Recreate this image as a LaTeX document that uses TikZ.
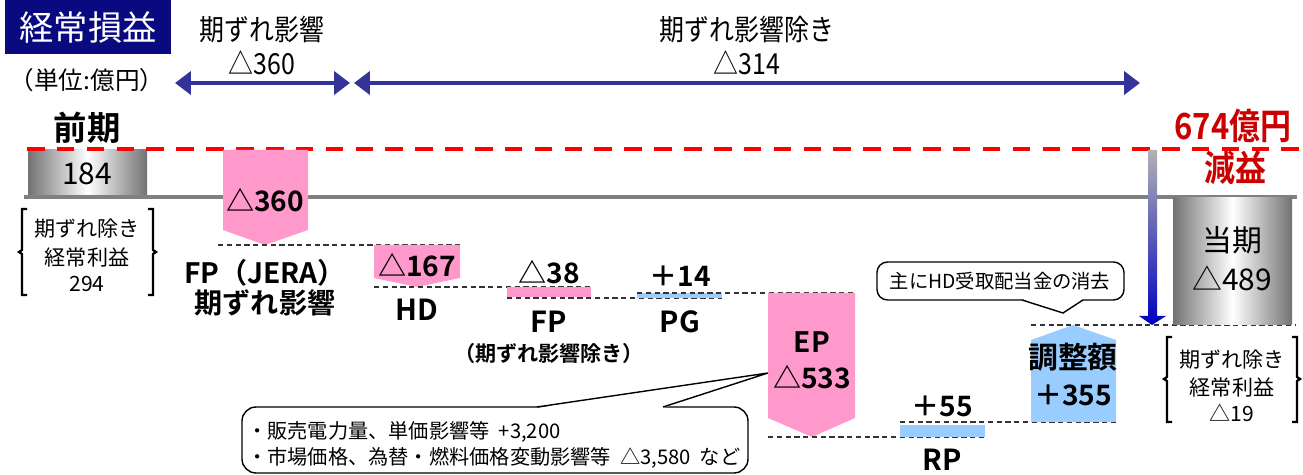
\documentclass[tikz,border=0pt]{standalone}
\usepackage{fontspec}
\setmainfont{Noto Sans CJK JP}[BoldFont={Noto Sans CJK JP Bold}]
\newfontfamily\narrowfont{Noto Sans CJK JP}[BoldFont={Noto Sans CJK JP Bold},FakeStretch=0.86]
\usetikzlibrary{arrows.meta, positioning, calc}
\definecolor{titlenavy}{HTML}{0A0A80}
\definecolor{arrownavy}{HTML}{333399}
\definecolor{barpink}{HTML}{FF99CC}
\definecolor{barblue}{HTML}{99CCFF}
\definecolor{lossred}{HTML}{CC0000}

\begin{document}
\begin{tikzpicture}[x=0.02cm, y=-0.02cm,
  lbl/.style={inner sep=0pt, font=\fontsize{16.5}{18}\selectfont\bfseries},
  big/.style={inner sep=0pt, font=\fontsize{16}{18}\selectfont\bfseries},
  topnote/.style={inner sep=0pt, font=\fontsize{16.5}{18}\selectfont\narrowfont},
  small/.style={inner sep=0pt, font=\fontsize{11.5}{13}\selectfont},
  stepline/.style={densely dashed, line width=0.7pt, black!80},
  span/.style={arrownavy, line width=2.4pt, {Triangle[length=9pt,width=13pt]}-{Triangle[length=9pt,width=13pt]}},
  bracketline/.style={line width=1.3pt}]
\useasboundingbox (0,0) rectangle (1303,475);

% Title and unit
\fill[titlenavy] (5,0) rectangle (171,54);
\node[inner sep=0pt, white, font=\fontsize{19.5}{21}\selectfont] (title) at (88,27) {経常損益};
\node[inner sep=0pt, font=\fontsize{14}{16}\selectfont] (unit) at (87,80) {（単位:億円）};

% Spans at the top
\coordinate (s1a) at (175,83); \coordinate (s1b) at (350,83);
\coordinate (s2a) at (354,83); \coordinate (s2b) at (1140,83);
\draw[span] (s1a) -- (s1b);
\draw[span] (s2a) -- (s2b);
\node[topnote] (lagname) at (262,30) {期ずれ影響};
\node[topnote] (lagval) at (262,63) {△360};
\node[topnote] (restname) at (747,30) {期ずれ影響除き};
\node[topnote] (restval) at (747,63) {△314};

% Previous year
\node[inner sep=0pt, font=\fontsize{19}{21}\selectfont\bfseries] (prevname) at (87,128) {前期};
\draw[left color=black!55, right color=black!55, middle color=white, draw=none]
  (28,150) rectangle (147,197);
\node[inner sep=0pt, font=\fontsize{17}{19}\selectfont] (prevval) at (87,174) {184};

% Lines across
\draw[black!50, line width=1.8pt] (24,197) -- (1297,197);
\draw[red, line width=2.4pt, dash pattern=on 10pt off 7pt] (27,149) -- (1303,149);

% Left bracket
\draw[bracketline] (27,209) -- (22,209) -- (22,250) -- (19,252) -- (22,254) -- (22,295) -- (27,295);
\draw[bracketline] (148,209) -- (153,209) -- (153,250) -- (156,252) -- (153,254) -- (153,295) -- (148,295);
\node[small, font=\fontsize{12}{14}\selectfont] (prevex1) at (87,229) {期ずれ除き};
\node[small, font=\fontsize{12}{14}\selectfont] (prevex2) at (87,257) {経常利益};
\node[small, font=\fontsize{12}{14}\selectfont] (prevex3) at (87,284) {294};

% FP (JERA) lag
\fill[barpink] (223,150) -- (308,150) -- (308,230) -- (265,245) -- (223,230) -- cycle;
\node[big] (jeraval) at (265,200) {△360};
\coordinate (jerab) at (218,245); \coordinate (hdt) at (460,245);
\draw[stepline] (jerab) -- (hdt);
\node[big] (jeraname) at (265,273) {FP（JERA）};
\node[big] (jeralag) at (265,303) {期ずれ影響};

% HD
\fill[barpink] (374,245) -- (460,245) -- (460,278) -- (417,287) -- (374,278) -- cycle;
\node[big] (hdval) at (417,265) {△167};
\coordinate (hdb) at (374,287); \coordinate (fpt) at (593,287);
\draw[stepline] (hdb) -- (fpt);
\node[lbl] (hdname) at (417,310) {HD};

% FP
\fill[barpink] (507,287) rectangle (591,297);
\node[big] (fpval) at (549,272) {△38};
\coordinate (fpb) at (507,298); \coordinate (pgb) at (722,298);
\draw[stepline] (fpb) -- (pgb);
\node[lbl] (fpname) at (549,322) {FP};
\node[inner sep=0pt, font=\fontsize{12}{14}\selectfont\bfseries] (fpnote) at (549,353) {（期ずれ影響除き）};

% PG
\fill[barblue] (637,293) rectangle (722,298);
\node[big] (pgval) at (680,276) {＋14};
\coordinate (pgt) at (637,293); \coordinate (ept) at (855,293);
\draw[stepline] (pgt) -- (ept);
\node[lbl] (pgname) at (680,322) {PG};

% EP
\fill[barpink] (768,293) -- (855,293) -- (855,418) -- (812,437) -- (768,418) -- cycle;
\node[big] (epname) at (812,342) {EP};
\node[big] (epval) at (812,377) {△533};
\coordinate (epb) at (768,437); \coordinate (rpb) at (985,437);
\draw[stepline] (epb) -- (rpb);

% RP
\fill[barblue] (900,425) rectangle (985,437);
\node[big] (rpval) at (942,406) {＋55};
\node[lbl] (rpname) at (942,460) {RP};
\coordinate (rpt) at (900,422); \coordinate (adjb) at (1116,422);
\draw[stepline] (rpt) -- (adjb);

% Adjustment
\fill[barblue] (1031,422) -- (1116,422) -- (1116,340) -- (1073,325) -- (1031,340) -- cycle;
\node[inner sep=0pt, font=\fontsize{17}{19}\selectfont\bfseries] (adjname) at (1073,357) {調整額};
\node[big] (adjval) at (1073,395) {＋355};
\coordinate (adjt) at (1031,325); \coordinate (curb) at (1295,325);
\draw[stepline] (adjt) -- (curb);

% Drop from previous to current
\shade[top color=black!30, bottom color=blue!75!black]
  (1148,150) -- (1157,150) -- (1157,316) -- (1166,316) -- (1152,325) -- (1139,316) -- (1148,316) -- cycle;

% Current year
\draw[left color=black!55, right color=black!55, middle color=white, draw=none]
  (1173,198) rectangle (1292,325);
\node[inner sep=0pt, font=\fontsize{17}{19}\selectfont] (curname) at (1232,240) {当期};
\node[inner sep=0pt, font=\fontsize{17}{19}\selectfont] (curval) at (1232,278) {△489};
\node[inner sep=0pt, lossred, font=\fontsize{20.5}{22}\selectfont\bfseries\narrowfont] (lossval) at (1233,126) {674億円};
\node[inner sep=0pt, lossred, font=\fontsize{20.5}{22}\selectfont\bfseries\narrowfont] (lossname) at (1235,168) {減益};

% Right bracket
\draw[bracketline] (1172,337) -- (1167,337) -- (1167,377) -- (1164,379) -- (1167,381) -- (1167,422) -- (1172,422);
\draw[bracketline] (1292,337) -- (1297,337) -- (1297,377) -- (1300,379) -- (1297,381) -- (1297,422) -- (1292,422);
\node[small, font=\fontsize{12}{14}\selectfont] (curex1) at (1232,360) {期ずれ除き};
\node[small, font=\fontsize{12}{14}\selectfont] (curex2) at (1232,387) {経常利益};
\node[small, font=\fontsize{12}{14}\selectfont] (curex3) at (1232,413) {△19};

% Callout for the adjustment
\draw[fill=white, rounded corners=6pt, line width=0.8pt] (877,262) rectangle (1124,300);
\coordinate (adjtip) at (1063,313);
\fill[white] (1022,299) -- (adjtip) -- (1083,299) -- cycle;
\draw[line width=0.8pt] (1022,300) -- (adjtip) -- (1083,300);
\node[small, font=\fontsize{11}{13}\selectfont] (adjnote) at (1000,281) {主にHD受取配当金の消去};

% Callout for EP
\draw[fill=white, rounded corners=8pt, line width=0.8pt] (242,407) rectangle (748,473);
\coordinate (eptip) at (768,373);
\fill[white] (537,408) -- (eptip) -- (663,408) -- cycle;
\draw[line width=0.8pt] (537,407) -- (eptip) -- (663,407);
\node[small, anchor=west, font=\fontsize{11.5}{13}\selectfont] (epnote1) at (247,432) {・販売電力量、単価影響等\ \ +3,200};
\node[small, anchor=west, font=\fontsize{11.5}{13}\selectfont] (epnote2) at (247,458) {・市場価格、為替・燃料価格変動影響等\ \ △3,580\ \ など};
\end{tikzpicture}
\end{document}
